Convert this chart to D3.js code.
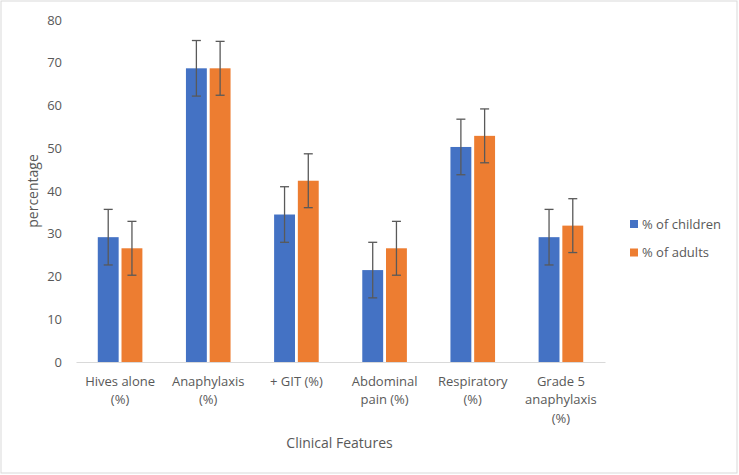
<!DOCTYPE html>
<html>
<head>
<meta charset="utf-8">
<script src="https://cdn.jsdelivr.net/npm/d3@7"></script>
<style>
  html, body { margin: 0; padding: 0; background: #fff; }
  svg { display: block; font-family: "Open Sans", "DejaVu Sans", sans-serif; }
</style>
</head>
<body>
<svg id="chart" width="739" height="475"></svg>
<script>
const categories = ["Hives alone\n(%)", "Anaphylaxis\n(%)", "+ GIT (%)", "Abdominal\npain (%)", "Respiratory\n(%)", "Grade 5\nanaphylaxis\n(%)"];
const seriesNames = ["% of children", "% of adults"];
const children = [29.2, 68.7, 34.5, 21.5, 50.3, 29.2];
const adults = [26.6, 68.7, 42.4, 26.6, 52.9, 31.9];
const childrenErr = [6.5, 6.5, 6.5, 6.5, 6.5, 6.5];
const adultsErr = [6.3, 6.3, 6.3, 6.3, 6.3, 6.3];
const yTicks = [0, 10, 20, 30, 40, 50, 60, 70, 80];
const colors = ["#4472C4", "#ED7D31"];

const svg = d3.select("#chart");
const W = 739, H = 475;
const m = { left: 76, right: 134, top: 20, bottom: 113 };

svg.append("rect").attr("x", 1).attr("y", 1).attr("width", W - 3).attr("height", H - 3)
  .attr("fill", "#fff").attr("stroke", "#d9d9d9").attr("stroke-width", 1);

const x0 = d3.scaleBand().domain(categories).range([m.left, W - m.right]).paddingInner(0).paddingOuter(0);
const groupW = x0.bandwidth() * 0.506;
const x1 = d3.scaleBand().domain(seriesNames).range([0, groupW]).paddingInner(0.12);
const y = d3.scaleLinear().domain([0, 80]).range([H - m.bottom, m.top]);

const data = categories.map((c, i) => ({
  cat: c,
  vals: [
    { s: seriesNames[0], v: children[i], e: childrenErr[i], col: colors[0] },
    { s: seriesNames[1], v: adults[i], e: adultsErr[i], col: colors[1] }
  ]
}));

// Y axis
const yAxis = svg.append("g").attr("transform", `translate(${m.left - 14},0)`)
  .call(d3.axisLeft(y).tickValues(yTicks).tickSize(0).tickPadding(0));
yAxis.select(".domain").remove();
yAxis.selectAll("text").attr("fill", "#595959").style("font-size", "13px")
  .style("font-family", "'Open Sans', sans-serif");

// X axis
const xAxis = svg.append("g").attr("transform", `translate(0,${y(0)})`)
  .call(d3.axisBottom(x0).tickSize(0).tickFormat(""));
xAxis.select(".domain").attr("stroke", "#d9d9d9").attr("stroke-width", 1);

// category labels
const lab = svg.append("g");
categories.forEach(c => {
  const lines = c.split("\n");
  const t = lab.append("text")
    .attr("x", x0(c) + x0.bandwidth() / 2)
    .attr("y", y(0) + 24)
    .attr("text-anchor", "middle")
    .attr("fill", "#595959")
    .style("font-size", "13px");
  lines.forEach((ln, k) => {
    t.append("tspan").attr("x", x0(c) + x0.bandwidth() / 2).attr("dy", k === 0 ? 0 : 18.3).text(ln);
  });
});

// bars
const groups = svg.append("g").selectAll("g").data(data).join("g")
  .attr("transform", d => `translate(${x0(d.cat) + (x0.bandwidth() - groupW) / 2},0)`);

groups.selectAll("rect").data(d => d.vals).join("rect")
  .attr("x", d => x1(d.s))
  .attr("width", x1.bandwidth())
  .attr("y", d => y(d.v))
  .attr("height", d => y(0) - y(d.v))
  .attr("fill", d => d.col);

// error bars
const eb = groups.selectAll("g.err").data(d => d.vals).join("g").attr("class", "err");
const capW = 4.5;
eb.append("line")
  .attr("x1", d => x1(d.s) + x1.bandwidth() / 2)
  .attr("x2", d => x1(d.s) + x1.bandwidth() / 2)
  .attr("y1", d => y(d.v + d.e))
  .attr("y2", d => y(d.v - d.e))
  .attr("stroke", "#595959").attr("stroke-width", 1.3);
eb.append("line")
  .attr("x1", d => x1(d.s) + x1.bandwidth() / 2 - capW)
  .attr("x2", d => x1(d.s) + x1.bandwidth() / 2 + capW)
  .attr("y1", d => y(d.v + d.e)).attr("y2", d => y(d.v + d.e))
  .attr("stroke", "#595959").attr("stroke-width", 1.3);
eb.append("line")
  .attr("x1", d => x1(d.s) + x1.bandwidth() / 2 - capW)
  .attr("x2", d => x1(d.s) + x1.bandwidth() / 2 + capW)
  .attr("y1", d => y(d.v - d.e)).attr("y2", d => y(d.v - d.e))
  .attr("stroke", "#595959").attr("stroke-width", 1.3);

// axis titles
svg.append("text")
  .attr("x", (m.left + W - m.right) / 2 - 1)
  .attr("y", 448)
  .attr("text-anchor", "middle")
  .attr("fill", "#595959")
  .style("font-size", "14px")
  .text("Clinical Features");

svg.append("text")
  .attr("transform", `translate(38,${(y(0) + y(80)) / 2}) rotate(-90)`)
  .attr("text-anchor", "middle")
  .attr("fill", "#595959")
  .style("font-size", "14px")
  .text("percentage");

// legend
const leg = svg.append("g").attr("transform", "translate(630,0)");
seriesNames.forEach((s, i) => {
  const cy = 224 + i * 28.5;
  leg.append("rect").attr("x", 0).attr("y", cy - 4).attr("width", 8).attr("height", 8).attr("fill", colors[i]);
  leg.append("text").attr("x", 12).attr("y", cy + 4.5).attr("fill", "#595959")
    .style("font-size", "13px").text(s);
});
</script>
</body>
</html>
